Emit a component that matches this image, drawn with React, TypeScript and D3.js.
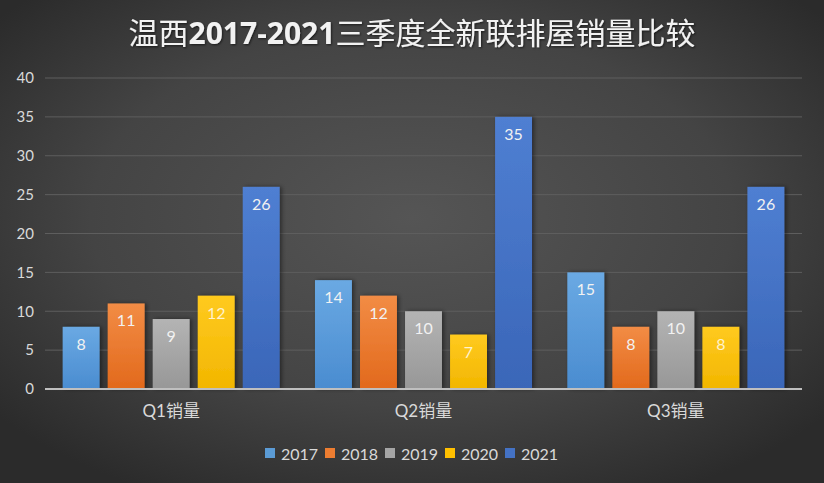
import React from "react";
import * as d3 from "d3";

// data
const categories = ["Q1销量", "Q2销量", "Q3销量"];
const years = ["2017", "2018", "2019", "2020", "2021"];
const sales2017 = [8, 14, 15];
const sales2018 = [11, 12, 8];
const sales2019 = [9, 10, 10];
const sales2020 = [12, 7, 8];
const sales2021 = [26, 35, 26];
const yTicks = [0, 5, 10, 15, 20, 25, 30, 35, 40];

const seriesValues = [sales2017, sales2018, sales2019, sales2020, sales2021];
const colors = [
    { top: "#6aa9e3", bottom: "#4a8cd0", base: "#5b9bd5" },
    { top: "#f28c45", bottom: "#e2691c", base: "#ed7d31" },
    { top: "#b4b4b4", bottom: "#979797", base: "#a5a5a5" },
    { top: "#ffca1f", bottom: "#f2b600", base: "#ffc000" },
    { top: "#4f7fd2", bottom: "#3a66b8", base: "#4472c4" },
];

const W = 824, H = 483;
const margin = { top: 78, right: 22, bottom: 94, left: 45 };
const font = "Lato, 'Noto Sans CJK SC', sans-serif";

export default function App() {
    const x0 = d3.scaleBand<string>()
        .domain(categories)
        .range([margin.left, W - margin.right])
        .paddingInner(0.14)
        .paddingOuter(0.07);
    const x1 = d3.scaleBand<string>()
        .domain(years)
        .range([0, x0.bandwidth()])
        .paddingInner(0.18);
    const y = d3.scaleLinear()
        .domain([0, 40])
        .range([H - margin.bottom, margin.top]);

    return (
        <svg width={W} height={H} style={{ position: "absolute", left: 0, top: 0 }}>
            <defs>
                <radialGradient id="bg" cx="50%" cy="45%" r="65%">
                    <stop offset="0%" stopColor="#555555" />
                    <stop offset="60%" stopColor="#444444" />
                    <stop offset="100%" stopColor="#2b2b2b" />
                </radialGradient>
                {colors.map((c, i) => (
                    <linearGradient key={i} id={"bar" + i} x1="0" y1="0" x2="0" y2="1">
                        <stop offset="0%" stopColor={c.top} />
                        <stop offset="100%" stopColor={c.bottom} />
                    </linearGradient>
                ))}
                <filter id="shadow" x="-20%" y="-10%" width="150%" height="120%">
                    <feDropShadow dx="2" dy="0" stdDeviation="2" floodColor="#000" floodOpacity="0.45" />
                </filter>
                <filter id="tshadow">
                    <feDropShadow dx="1" dy="1" stdDeviation="1" floodColor="#000" floodOpacity="0.6" />
                </filter>
            </defs>
            <rect width={W} height={H} fill="url(#bg)" />

            <text x={W / 2} y={44} textAnchor="middle" fill="#f2f2f2" fontSize={30}
                fontFamily="'Noto Sans CJK SC', sans-serif" filter="url(#tshadow)">
                温西<tspan fontWeight="bold" fontFamily="'Open Sans', sans-serif">2017-2021</tspan>三季度全新联排屋销量比较
            </text>

            {/* grid */}
            {yTicks.map(t => (
                <g key={t}>
                    {t > 0 && <line x1={margin.left} x2={W - margin.right} y1={y(t)} y2={y(t)}
                        stroke="#5e5e5e" strokeWidth={1} />}
                    <text x={34} y={y(t)} dy="0.35em" textAnchor="end" fill="#d9d9d9"
                        fontSize={15} fontFamily={font}>{t}</text>
                </g>
            ))}

            {/* bars */}
            {categories.map((cat, ci) => (
                <g key={cat} transform={`translate(${x0(cat)},0)`}>
                    {years.map((yr, si) => {
                        const v = seriesValues[si][ci];
                        return (
                            <g key={yr}>
                                <rect x={x1(yr)} y={y(v)} width={x1.bandwidth()}
                                    height={y(0) - y(v)} fill={`url(#bar${si})`} filter="url(#shadow)" />
                                <text x={(x1(yr) as number) + x1.bandwidth() / 2} y={y(v) + 23}
                                    textAnchor="middle" fill={si === 3 ? "#fff2cc" : "#f2f2f2"}
                                    fontSize={16} fontFamily={font}>{v}</text>
                            </g>
                        );
                    })}
                    <text x={x0.bandwidth() / 2} y={y(0) + 28} textAnchor="middle" fill="#d9d9d9"
                        fontSize={17} fontFamily={font}>{cat}</text>
                </g>
            ))}

            <line x1={margin.left} x2={W - margin.right} y1={y(0)} y2={y(0)}
                stroke="#bfbfbf" strokeWidth={2} />

            {/* legend */}
            {years.map((yr, i) => (
                <g key={yr} transform={`translate(${265 + i * 60},454)`}>
                    <rect x={0} y={-6} width={10} height={10} fill={colors[i].base} />
                    <text x={16} y={0} dy="0.35em" fill="#d9d9d9" fontSize={16} fontFamily={font}>{yr}</text>
                </g>
            ))}
        </svg>
    );
}
